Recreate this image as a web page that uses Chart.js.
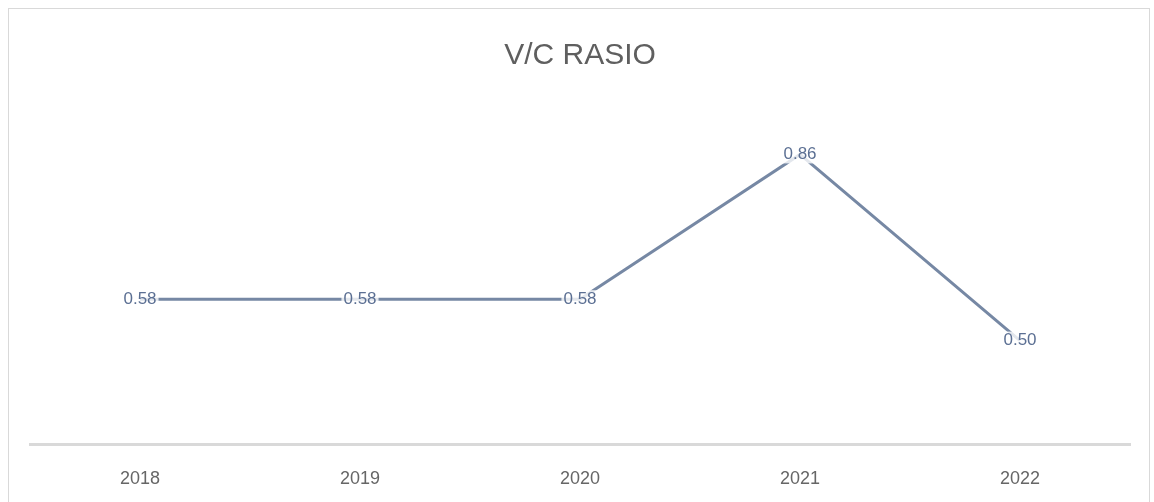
<!DOCTYPE html>
<html><head><meta charset="utf-8">
<script src="https://cdn.jsdelivr.net/npm/chart.js@4/dist/chart.umd.min.js"></script>
<style>
html,body{margin:0;padding:0;background:#fff;}
#wrap{position:relative;width:1154px;height:502px;overflow:hidden;}
#frame{position:absolute;left:8px;top:8px;width:1142px;height:520px;border:1px solid #d9d9d9;box-sizing:border-box;}
canvas{position:absolute;left:0;top:0;}
</style></head>
<body><div id="wrap"><div id="frame"></div><canvas id="c" width="1154" height="502"></canvas></div>
<script>
const categories = ["2018","2019","2020","2021","2022"];
const vcRatio = [0.58, 0.58, 0.58, 0.86, 0.50];
const chartTitle = "V/C RASIO";

const labelPlugin = {
  id: 'valueLabels',
  afterDatasetsDraw(chart) {
    const ctx = chart.ctx;
    const meta = chart.getDatasetMeta(0);
    ctx.save();
    ctx.font = '17px "Liberation Sans", Arial, sans-serif';
    ctx.textAlign = 'center';
    ctx.textBaseline = 'middle';
    meta.data.forEach((pt, i) => {
      const txt = vcRatio[i].toFixed(2);
      const w = ctx.measureText(txt).width;
      ctx.fillStyle = 'rgba(255,255,255,0.8)';
      ctx.fillRect(pt.x - w/2 - 2, pt.y - 9, w + 4, 18);
      ctx.fillStyle = '#5b6f93';
      ctx.fillText(txt, pt.x, pt.y);
    });
    ctx.restore();
  }
};

new Chart(document.getElementById('c'), {
  type: 'line',
  data: {
    labels: categories,
    datasets: [{
      data: vcRatio,
      borderColor: '#7688a4',
      borderWidth: 3,
      pointRadius: 0,
      tension: 0,
      fill: false
    }]
  },
  options: {
    responsive: false,
    animation: false,
    layout: { padding: { left: 30, right: 24, top: 0, bottom: 0 } },
    plugins: {
      legend: { display: false },
      tooltip: { enabled: false },
      title: {
        display: true,
        text: chartTitle,
        color: '#5f5f5f',
        font: { family: '"Liberation Sans", Arial, sans-serif', size: 30, weight: 'normal' },
        padding: { top: 38, bottom: 8 }
      }
    },
    scales: {
      x: {
        offset: true,
        grid: { display: false, drawTicks: false },
        border: { display: true, color: '#d9d9d9', width: 3 },
        ticks: { color: '#666666', padding: 24, font: { family: '"Liberation Sans", Arial, sans-serif', size: 18 } },
        afterFit(scale) { scale.height = 58; }
      },
      y: {
        display: false,
        min: 0.3,
        max: 1.0
      }
    }
  },
  plugins: [labelPlugin]
});
</script></body></html>
